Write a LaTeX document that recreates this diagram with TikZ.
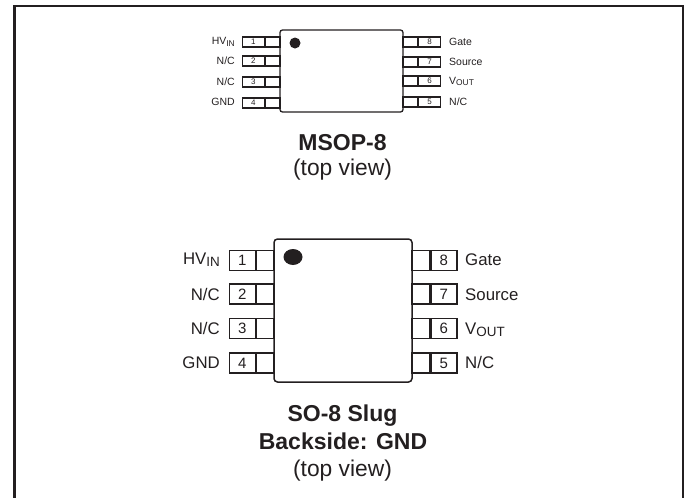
\documentclass[tikz,border=0pt]{standalone}
\usepackage{fontspec}
\setmainfont{Liberation Sans}
\usetikzlibrary{shapes.geometric, positioning}
\definecolor{pkgblack}{RGB}{35, 31, 32}
\newcommand{\lowtxt}[1]{\raisebox{-0.12em}{\scalebox{0.8}{#1}}}
\tikzset{
  chipsmall/.style={draw=pkgblack,line width=1.3pt,rounded corners=2.5pt,inner sep=0pt,minimum width=123pt,minimum height=82pt},
  chiplarge/.style={draw=pkgblack,line width=1.5pt,rounded corners=3.5pt,inner sep=0pt,minimum width=138pt,minimum height=143pt},
  numsmall/.style={draw=pkgblack,line width=1.3pt,inner sep=0pt,minimum width=22pt,minimum height=10pt,text=pkgblack,font=\fontsize{8}{9}\selectfont},
  legsmall/.style={draw=pkgblack,line width=1.3pt,inner sep=0pt,minimum width=15pt,minimum height=10pt},
  numlarge/.style={draw=pkgblack,line width=1.5pt,inner sep=0pt,minimum width=26pt,minimum height=20pt,text=pkgblack,font=\fontsize{15}{17}\selectfont},
  leglarge/.style={draw=pkgblack,line width=1.5pt,inner sep=0pt,minimum width=18pt,minimum height=20pt},
  labelsmall/.style={inner sep=0pt,text=pkgblack,font=\fontsize{10.5}{12}\selectfont},
  labellarge/.style={inner sep=0pt,text=pkgblack,font=\fontsize{16.8}{19}\selectfont},
  titletext/.style={inner sep=0pt,anchor=base,text=pkgblack,font=\fontsize{23}{26}\selectfont\bfseries},
  viewtext/.style={inner sep=0pt,anchor=base,text=pkgblack,font=\fontsize{22.8}{26}\selectfont}
}
\begin{document}
\begin{tikzpicture}[x=1pt,y=-1pt]
\useasboundingbox (0,0) rectangle (686,498);
% Frame
\draw[pkgblack,line width=2.6pt] (14.5,498) -- (14.5,6) -- (683,6) -- (683,498);
% MSOP-8 package
\node[chipsmall] (msop) at (341.5,71) {};
\node[circle,fill=pkgblack,inner sep=0pt,minimum size=11pt] (msopdot) at (295,43) {};
\foreach \n/\y in {1/42,2/61,3/82,4/103} {
  \node[legsmall] (msopl\n) at (272.5,\y) {};
  \node[numsmall,left=-0.65pt of msopl\n] (msopn\n) {\n};
}
\foreach \n/\y in {8/42,7/62,6/81,5/102} {
  \node[legsmall] (msopr\n) at (410.5,\y) {};
  \node[numsmall,right=-0.65pt of msopr\n] (msopn\n) {\n};
}
% Labels
\node[labelsmall,anchor=east] (lab1) at (235,42) {HV\lowtxt{IN}};
\node[labelsmall,anchor=east] (lab2) at (235,60.5) {N/C};
\node[labelsmall,anchor=east] (lab3) at (235,81.5) {N/C};
\node[labelsmall,anchor=east] (lab4) at (235,102) {GND};
\node[labelsmall,anchor=west] (lab8) at (449,42) {Gate};
\node[labelsmall,anchor=west] (lab7) at (449,61.5) {Source};
\node[labelsmall,anchor=west] (lab6) at (449,81.5) {V\lowtxt{OUT}};
\node[labelsmall,anchor=west] (lab5) at (449,102) {N/C};
\node[titletext] (msoptitle) at (342.5,150) {MSOP-8};
\node[viewtext] (msopview) at (342.5,175.5) {(top view)};
% SO-8 package
\node[chiplarge] (slug) at (343,310.5) {};
\node[ellipse,fill=pkgblack,inner sep=0pt,minimum width=19pt,minimum height=16pt] (slugdot) at (293,257) {};
\foreach \n/\y in {1/260.5,2/294,3/328.5,4/363} {
  \node[leglarge] (slugl\n) at (265,\y) {};
  \node[numlarge,left=-0.75pt of slugl\n] (slugn\n) {\n};
}
\foreach \n/\y in {8/260.5,7/294,6/328.5,5/363} {
  \node[leglarge] (slugr\n) at (421,\y) {};
  \node[numlarge,right=-0.75pt of slugr\n] (slugn\n) {\n};
}
% Labels
\node[labellarge,anchor=east] (big1) at (220,260) {HV\lowtxt{IN}};
\node[labellarge,anchor=east] (big2) at (220,294) {N/C};
\node[labellarge,anchor=east] (big3) at (220,328) {N/C};
\node[labellarge,anchor=east] (big4) at (220,362.5) {GND};
\node[labellarge,anchor=west] (big8) at (465,260) {Gate};
\node[labellarge,anchor=west] (big7) at (465,294.5) {Source};
\node[labellarge,anchor=west] (big6) at (465,330) {V\lowtxt{OUT}};
\node[labellarge,anchor=west] (big5) at (465,362.5) {N/C};
\node[titletext] (slugtitle) at (342.5,421.5) {SO-8 Slug};
\node[titletext] (slugback) at (343,449) {Backside: GND};
\node[viewtext] (slugview) at (342.5,476.5) {(top view)};
\end{tikzpicture}
\end{document}
